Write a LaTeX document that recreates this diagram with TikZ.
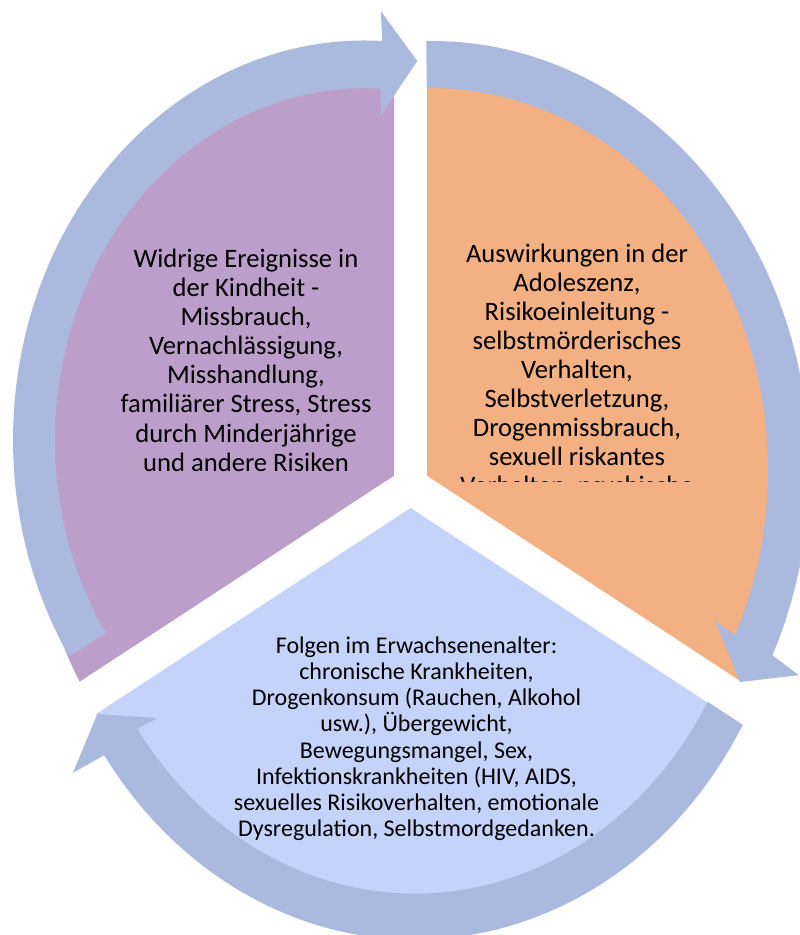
\documentclass[tikz,border=0pt]{standalone}
\usepackage{fontspec}
\setmainfont{Carlito}
\definecolor{purp}{HTML}{BC9ECB}
\definecolor{orng}{HTML}{F3B082}
\definecolor{lblu}{HTML}{C5D3FB}
\definecolor{arrc}{HTML}{ABB9DE}
\begin{document}
\begin{tikzpicture}[x=1pt,y=1pt,
  arrowband/.style={fill=arrc},
  lbl/.style={align=center, inner sep=0pt, text=black},
  bigtxt/.style={font=\fontsize{26.6}{29.1}\selectfont},
  smalltxt/.style={font=\fontsize{24}{26.2}\selectfont}]
\useasboundingbox (0,0) rectangle (800,935);
\clip (0,0) rectangle (800,935);
% sectors
\begin{scope}[shift={(394,459.3)},yscale=1.135]
  \fill[purp] (0,0) -- (90:363) arc[start angle=90,end angle=210,radius=363] -- cycle;
\end{scope}
\begin{scope}[shift={(427,459.3)},yscale=1.135]
  \fill[orng] (0,0) -- (-30:363) arc[start angle=-30,end angle=90,radius=363] -- cycle;
\end{scope}
\begin{scope}[shift={(410.5,427)},yscale=1.135]
  \fill[lblu] (0,0) -- (210:363) arc[start angle=210,end angle=330,radius=363] -- cycle;
\end{scope}
% arrows
\begin{scope}[shift={(365,495)},yscale=1.135]
  \fill[arrowband] (213.3:310) arc[start angle=213.3,end angle=87.2,radius=310]
    -- (86.8:286.8) -- (81.1:338) -- (87.6:378.3) -- (87.2:352)
    arc[start angle=87.2,end angle=212.8,radius=352] -- cycle;
\end{scope}
\begin{scope}[shift={(431.5,465)},yscale=1.135]
  \fill[arrowband] (90.8:378) arc[start angle=90.8,end angle=-25.6,radius=378]
    -- (-26.2:409.5) -- (-31.2:360.6) -- (-25.1:313) -- (-25.6:336.5)
    arc[start angle=-25.6,end angle=90.8,radius=336.5] -- cycle;
\end{scope}
\begin{scope}[shift={(415,425)},yscale=1.135]
  \fill[arrowband] (-30:378.5) arc[start angle=-30,end angle=-145.2,radius=378.5]
    -- (-145.9:413) -- (-150.5:365) -- (-144.6:316.5) -- (-145.2:338)
    arc[start angle=-145.2,end angle=-30,radius=338] -- cycle;
\end{scope}
% texts (base anchor = baseline of last line)
\node[lbl,bigtxt,anchor=base] (t1) at (246,463.8) {Widrige Ereignisse in\\der Kindheit -\\Missbrauch,\\Vernachlässigung,\\Misshandlung,\\familiärer Stress, Stress\\durch Minderjährige\\und andere Risiken};
\begin{scope}
  \clip (0,453) rectangle (800,935);
  \node[lbl,bigtxt,anchor=base] (t2) at (577,440) {Auswirkungen in der\\Adoleszenz,\\Risikoeinleitung -\\selbstmörderisches\\Verhalten,\\Selbstverletzung,\\Drogenmissbrauch,\\sexuell riskantes\\Verhalten, psychische};
\end{scope}
\begin{scope}
  \clip (0,86) rectangle (800,935);
  \node[lbl,smalltxt,anchor=base] (t3) at (416.5,98.3) {Folgen im Erwachsenenalter:\\chronische Krankheiten,\\Drogenkonsum (Rauchen, Alkohol\\usw.), Übergewicht,\\Bewegungsmangel, Sex,\\Infektionskrankheiten (HIV, AIDS,\\sexuelles Risikoverhalten, emotionale\\Dysregulation, Selbstmordgedanken.};
\end{scope}
\end{tikzpicture}
\end{document}
